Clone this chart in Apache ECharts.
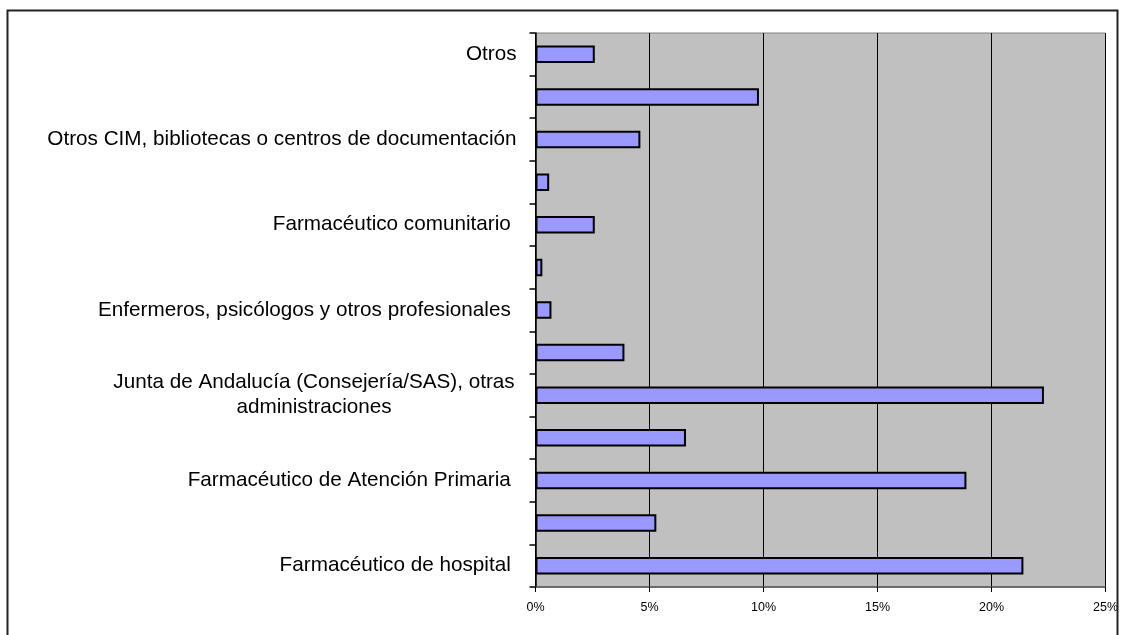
<!DOCTYPE html>
<html>
<head>
<meta charset="utf-8">
<script src="https://cdn.jsdelivr.net/npm/echarts@6/dist/echarts.min.js"></script>
<style>
html,body{margin:0;padding:0;background:#fff;}
#c{width:1121px;height:635px;}
</style>
</head>
<body>
<div id="c"></div>
<script>
// Categories listed bottom to top (unlabeled categories were not shown in the original)
const categories = [
  'Farmacéutico de hospital ',
  '',
  'Farmacéutico de Atención Primaria ',
  '',
  'Junta de Andalucía (Consejería/SAS), otras\nadministraciones',
  '',
  'Enfermeros, psicólogos y otros profesionales ',
  '',
  'Farmacéutico comunitario ',
  '',
  'Otros CIM, bibliotecas o centros de documentación',
  '',
  'Otros'
];
const values = [21.4, 5.3, 18.9, 6.6, 22.3, 3.9, 0.7, 0.3, 2.6, 0.6, 4.6, 9.8, 2.6];
const xTicks = [0, 5, 10, 15, 20, 25];

const chart = echarts.init(document.getElementById('c'));
const FONT = '"Liberation Sans", Arial, sans-serif';
chart.setOption({
  animation: false,
  backgroundColor: '#ffffff',
  grid: {
    left: 535.5, top: 33, width: 571, height: 554,
    show: true, backgroundColor: '#c0c0c0', borderColor: '#808080', borderWidth: 1
  },
  xAxis: {
    type: 'value',
    min: xTicks[0], max: xTicks[xTicks.length - 1], interval: xTicks[1] - xTicks[0],
    axisLine: { show: true, lineStyle: { color: '#555', width: 1.5 } },
    axisTick: { show: true, length: 5, lineStyle: { color: '#000', width: 1 } },
    splitLine: { show: true, lineStyle: { color: '#000', width: 1 } },
    axisLabel: {
      formatter: '{value}%', color: '#000', fontFamily: FONT, fontSize: 12.5, margin: 14
    }
  },
  yAxis: {
    type: 'category',
    data: categories,
    axisLine: { show: true, lineStyle: { color: '#000', width: 1.5 } },
    axisTick: { show: true, interval: 0, length: 6, lineStyle: { color: '#000', width: 1.5 } },
    splitLine: { show: false },
    axisLabel: {
      interval: 0, color: '#000', fontFamily: FONT, fontSize: 20.7, margin: 19,
      formatter: function (v) {
        if (v.indexOf('\n') >= 0) {
          return v.split('\n').map(function (s) { return '{c|' + s + '}'; }).join('\n');
        }
        return v;
      },
      rich: {
        c: { width: 405, align: 'center', fontSize: 20.7, lineHeight: 25, fontFamily: FONT, color: '#000' }
      }
    }
  },
  series: [{
    type: 'bar',
    data: values,
    barWidth: 17.5,
    itemStyle: { color: '#9999ff', borderColor: '#000', borderWidth: 2 }
  }],
  graphic: [{
    type: 'rect', z: 100, silent: true,
    shape: { x: 7.5, y: 10.5, width: 1110, height: 640 },
    style: { fill: 'none', stroke: '#222', lineWidth: 2 }
  }]
});
</script>
</body>
</html>
